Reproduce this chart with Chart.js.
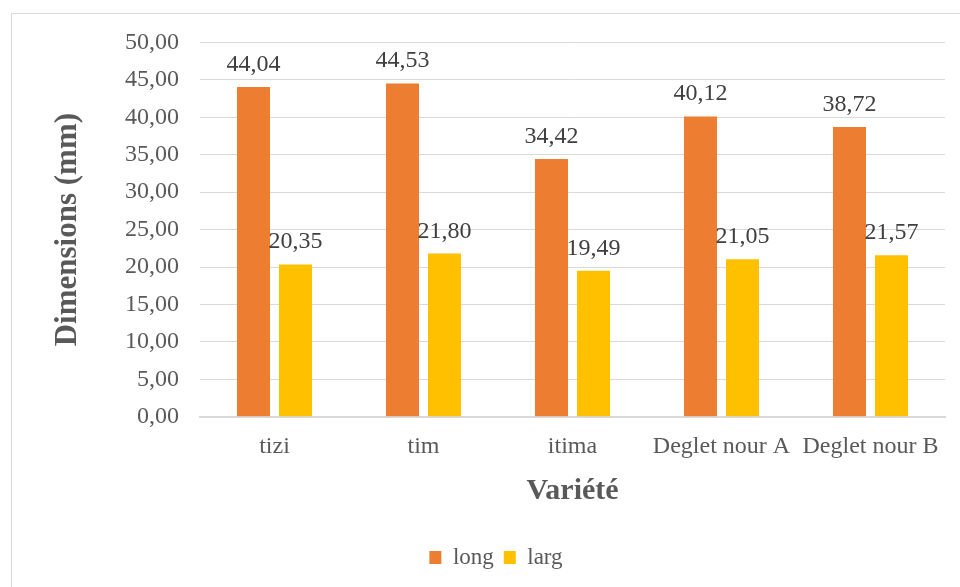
<!DOCTYPE html>
<html>
<head>
<meta charset="utf-8">
<script src="https://cdn.jsdelivr.net/npm/chart.js@4/dist/chart.umd.min.js"></script>
<style>
  html, body { margin: 0; padding: 0; background: #fff; }
  canvas { display: block; }
</style>
</head>
<body>
<canvas id="chart" width="960" height="587"></canvas>
<script>
// data
const varietes = ['tizi', 'tim', 'itima', 'Deglet nour A', 'Deglet nour B'];
const longValues = [44.04, 44.53, 34.42, 40.12, 38.72];
const largValues = [20.35, 21.80, 19.49, 21.05, 21.57];
const yTickLabels = ['0,00', '5,00', '10,00', '15,00', '20,00', '25,00', '30,00', '35,00', '40,00', '45,00', '50,00'];

const SERIF = "'Liberation Serif', 'Times New Roman', serif";
const fmt = (v) => v.toFixed(2).replace('.', ',');

/* =========================
   background + outer frame
========================= */
const framePlugin = {
  id: 'frame',
  beforeDraw(chart) {
    const ctx = chart.ctx;
    ctx.save();
    ctx.fillStyle = '#fff';
    ctx.fillRect(0, 0, chart.width, chart.height);
    ctx.strokeStyle = '#d9d9d9';
    ctx.lineWidth = 1;
    ctx.strokeRect(11.5, 13.5, chart.width + 20, chart.height + 20);
    ctx.restore();
  }
};

/* =========================
   value labels above bars
========================= */
const valueLabels = {
  id: 'valueLabels',
  afterDatasetsDraw(chart) {
    const ctx = chart.ctx;
    ctx.save();
    ctx.font = '24px ' + SERIF;
    ctx.fillStyle = '#404040';
    ctx.textAlign = 'center';
    ctx.textBaseline = 'alphabetic';
    chart.data.datasets.forEach((ds, i) => {
      const meta = chart.getDatasetMeta(i);
      meta.data.forEach((bar, j) => {
        ctx.fillText(fmt(ds.data[j]), bar.x, bar.y - 16);
      });
    });
    ctx.restore();
  }
};

new Chart(document.getElementById('chart'), {
  type: 'bar',
  data: {
    labels: varietes,
    datasets: [
      { label: 'long', data: longValues, backgroundColor: '#ED7D31', borderWidth: 0,
        categoryPercentage: 0.564, barPercentage: 0.786 },
      { label: 'larg', data: largValues, backgroundColor: '#FFC000', borderWidth: 0,
        categoryPercentage: 0.564, barPercentage: 0.786 }
    ]
  },
  options: {
    responsive: false,
    animation: false,
    devicePixelRatio: 1,
    layout: { padding: { top: 42.5, left: 32, right: 0, bottom: 8 } },
    plugins: {
      tooltip: { enabled: false },
      legend: {
        position: 'bottom',
        labels: {
          font: { family: SERIF, size: 23 },
          color: '#595959',
          boxWidth: 12,
          boxHeight: 13,
          padding: 10
        }
      }
    },
    scales: {
      x: {
        grid: { display: false },
        border: { color: '#d9d9d9', width: 2 },
        ticks: { font: { family: SERIF, size: 24 }, color: '#595959', padding: 8, maxRotation: 0 },
        title: {
          display: true,
          text: 'Variété',
          font: { family: SERIF, size: 30, weight: 'bold' },
          color: '#595959',
          padding: { top: 0, bottom: 27 }
        },
        afterFit(s) { s.height = 119.3; }
      },
      y: {
        min: 0,
        max: 50,
        grid: { color: '#d9d9d9', lineWidth: 1, drawTicks: false },
        border: { display: false },
        ticks: {
          stepSize: 5,
          font: { family: SERIF, size: 24 },
          color: '#595959',
          padding: 21,
          callback: (v) => yTickLabels[Math.round(v / 5)]
        },
        title: {
          display: true,
          text: 'Dimensions (mm)',
          font: { family: SERIF, size: 31, weight: 'bold' },
          color: '#595959',
          padding: { top: 17, bottom: 0 }
        },
        afterFit(s) { s.width = 168; }
      },
      // spacer so the plot stops short of the right edge
      y2: {
        position: 'right',
        grid: { display: false },
        border: { display: false },
        ticks: { display: false },
        afterFit(s) { s.width = 15; }
      }
    }
  },
  plugins: [framePlugin, valueLabels]
});
</script>
</body>
</html>
